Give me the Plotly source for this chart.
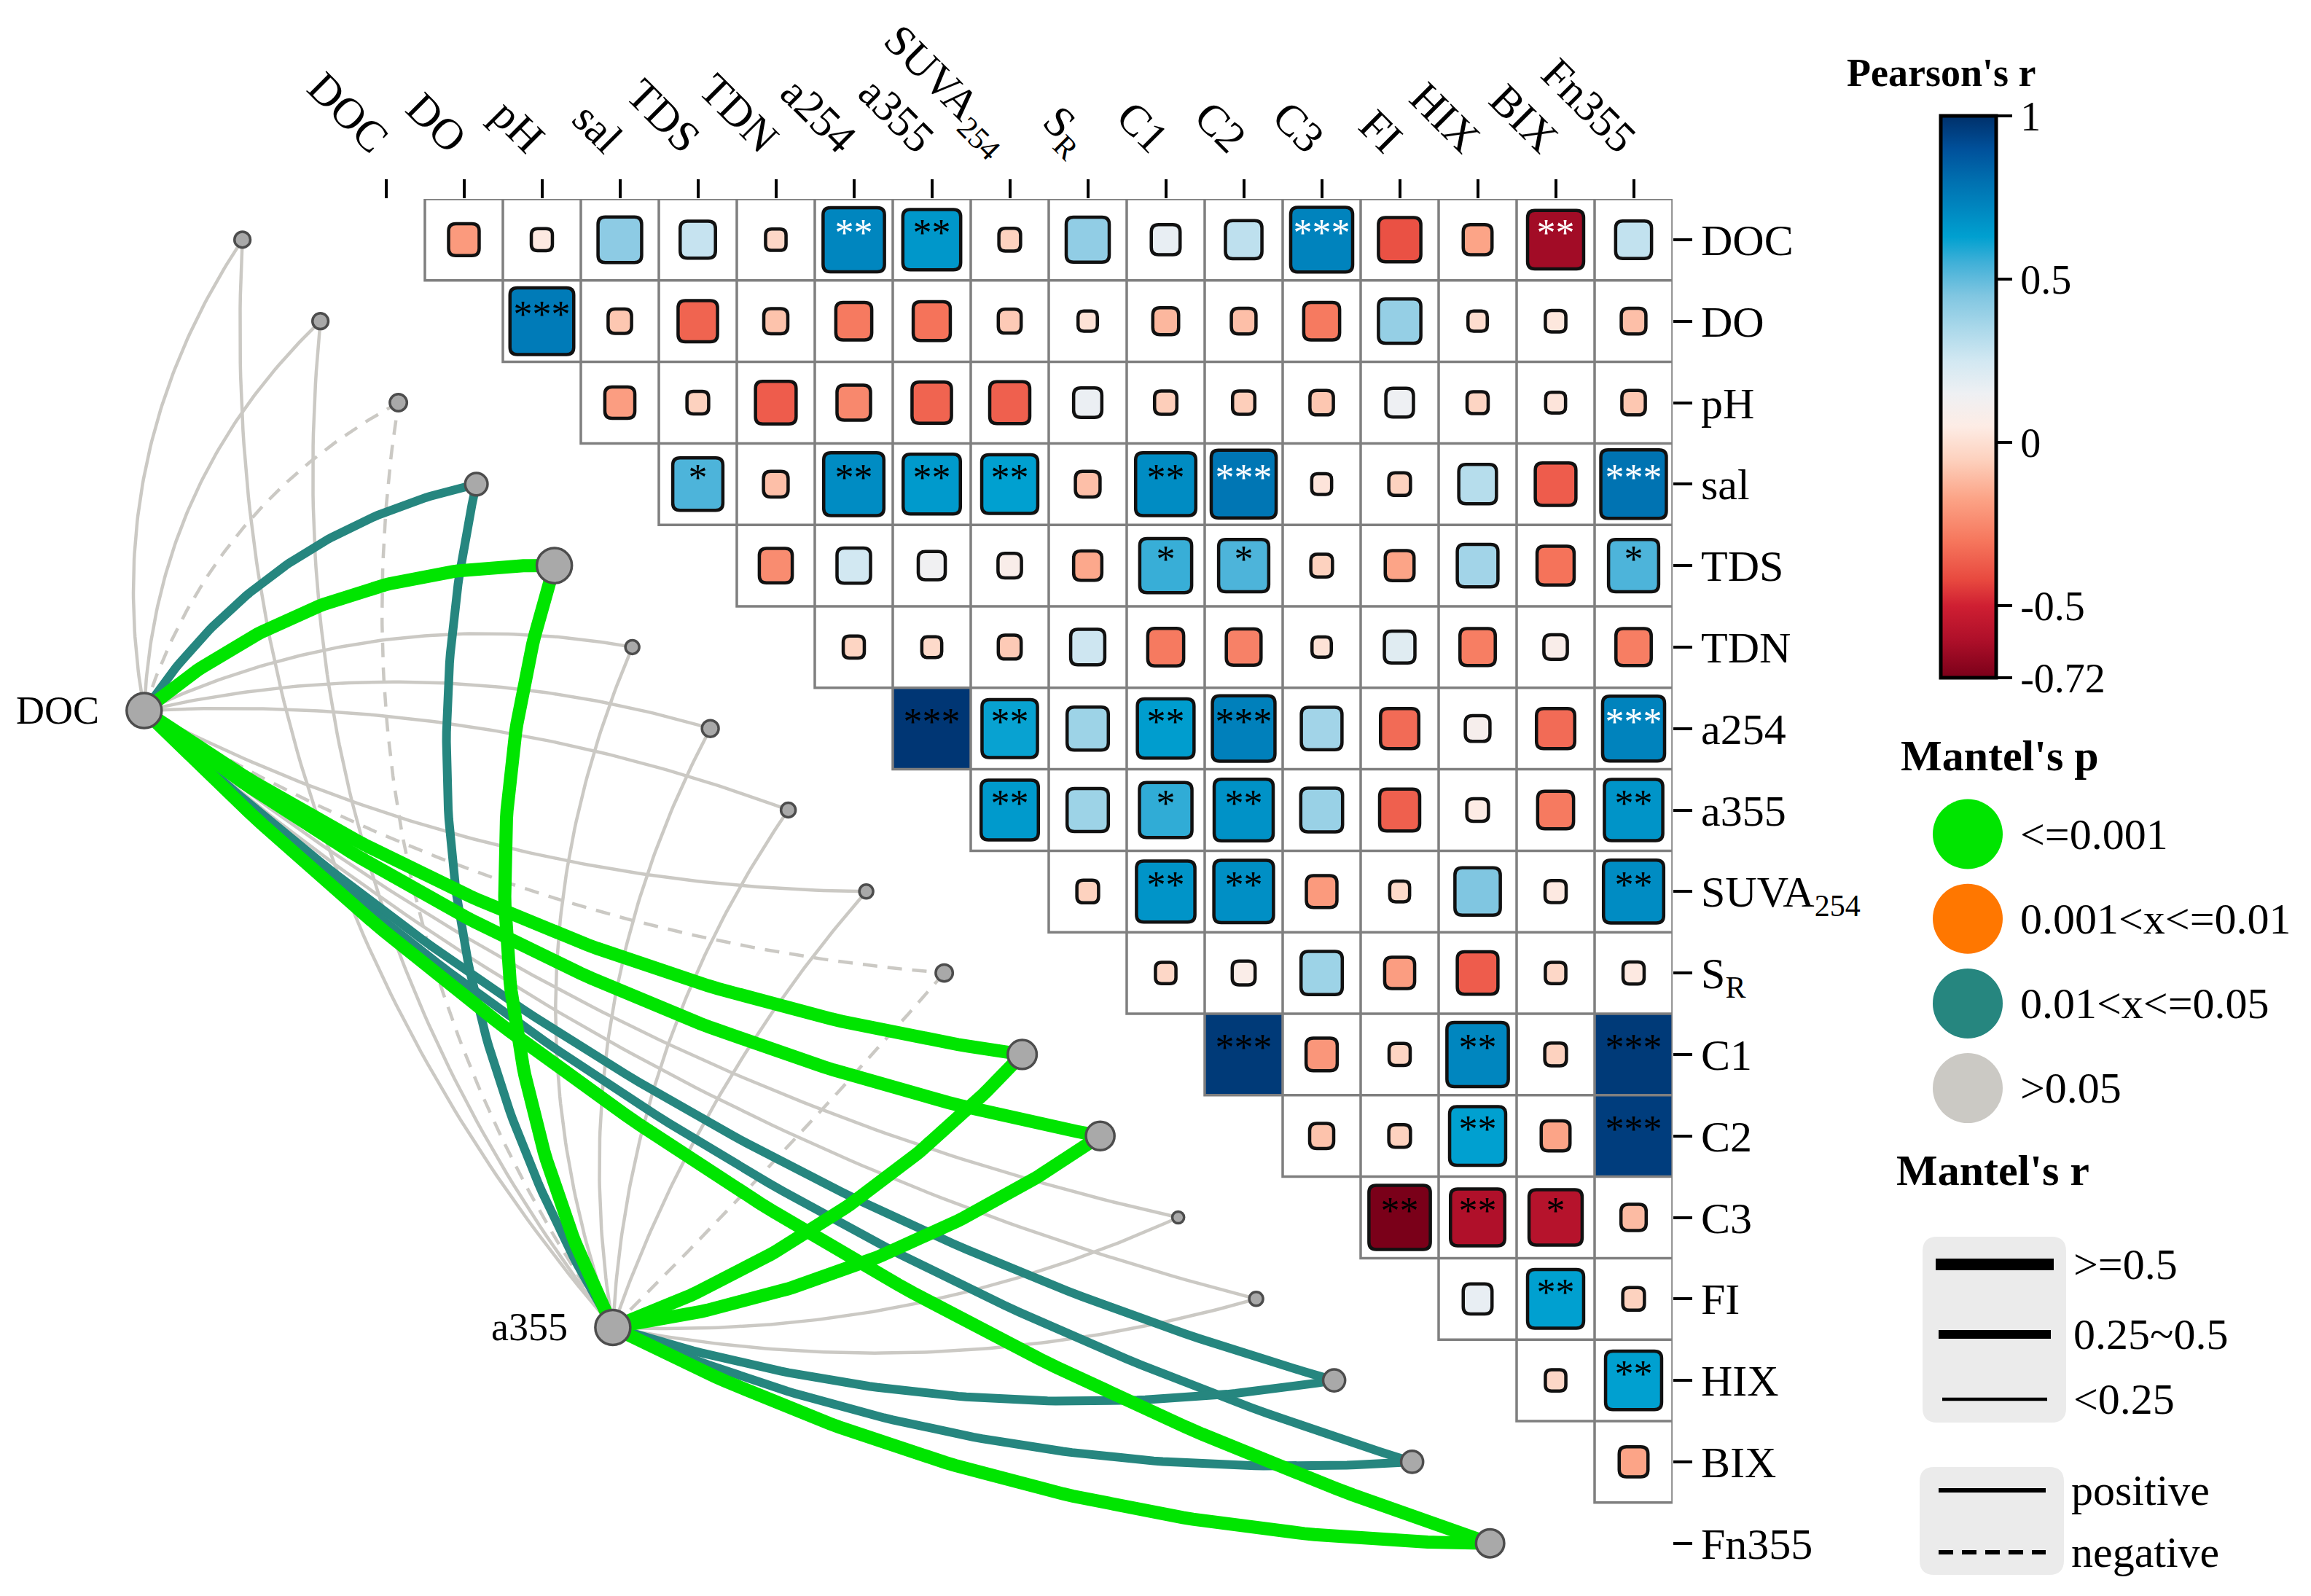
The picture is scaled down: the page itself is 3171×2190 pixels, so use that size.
import numpy as np
import plotly.graph_objects as go
from plotly.colors import sample_colorscale

PAGE_W, PAGE_H = 3171, 2190
OFF = 8                      # default body margin of the html page
W, H = PAGE_W - 2 * OFF, PAGE_H - 2 * OFF
SERIF = "Liberation Serif"

# ---------------- data ----------------
variables = ["DOC", "DO", "pH", "sal", "TDS", "TDN", "a254", "a355", "SUVA254",
             "SR", "C1", "C2", "C3", "FI", "HIX", "BIX", "Fn355"]
tick_text = ["DOC", "DO", "pH", "sal", "TDS", "TDN", "a254", "a355",
             "SUVA<sub>254</sub>", "S<sub>R</sub>", "C1", "C2", "C3", "FI",
             "HIX", "BIX", "Fn355"]

# Pearson's r: each row variable against the variables listed after it
r_DOC = [-0.20, 0.04, 0.42, 0.28, -0.03, 0.72, 0.66, -0.05, 0.41, 0.17, 0.30, 0.73, -0.40, -0.17, -0.63, 0.29]
r_DO = [0.76, -0.08, -0.35, -0.09, -0.29, -0.31, -0.07, 0.01, -0.12, -0.10, -0.29, 0.40, -0.01, 0.03, -0.10]
r_pH = [-0.19, -0.05, -0.37, -0.25, -0.35, -0.36, 0.16, -0.06, -0.06, -0.08, 0.15, -0.04, 0.02, -0.08]
r_sal = [0.53, -0.10, 0.70, 0.65, 0.63, -0.10, 0.70, 0.78, 0.02, -0.05, 0.32, -0.37, 0.79]
r_TDS = [-0.24, 0.25, 0.14, 0.08, -0.16, 0.56, 0.53, -0.05, -0.17, 0.37, -0.31, 0.53]
r_TDN = [-0.04, -0.02, -0.07, 0.26, -0.29, -0.27, 0.01, 0.20, -0.28, 0.08, -0.28]
r_a254 = [0.98, 0.62, 0.38, 0.64, 0.74, 0.37, -0.33, 0.10, -0.33, 0.73]
r_a355 = [0.65, 0.38, 0.57, 0.68, 0.39, -0.36, 0.05, -0.29, 0.67]
r_SUVA = [-0.05, 0.67, 0.69, -0.20, -0.02, 0.45, 0.04, 0.70]
r_SR = [-0.03, 0.07, 0.38, -0.19, -0.37, -0.03, 0.04]
r_C1 = [0.97, -0.21, -0.04, 0.72, -0.05, 0.97]
r_C2 = [-0.09, -0.05, 0.63, -0.17, 0.96]
r_C3 = [-0.72, -0.60, -0.58, -0.11]
r_FI = [0.17, 0.63, -0.05]
r_HIX = [-0.03, 0.63]
r_BIX = [-0.17]

# significance labels, same layout as the r rows
sig_DOC = ["", "", "", "", "", "**", "**", "", "", "", "", "***", "", "", "**", ""]
sig_DO = ["***", "", "", "", "", "", "", "", "", "", "", "", "", "", ""]
sig_pH = ["", "", "", "", "", "", "", "", "", "", "", "", "", ""]
sig_sal = ["*", "", "**", "**", "**", "", "**", "***", "", "", "", "", "***"]
sig_TDS = ["", "", "", "", "", "*", "*", "", "", "", "", "*"]
sig_TDN = ["", "", "", "", "", "", "", "", "", "", ""]
sig_a254 = ["***", "**", "", "**", "***", "", "", "", "", "***"]
sig_a355 = ["**", "", "*", "**", "", "", "", "", "**"]
sig_SUVA = ["", "**", "**", "", "", "", "", "**"]
sig_SR = ["", "", "", "", "", "", ""]
sig_C1 = ["***", "", "", "**", "", "***"]
sig_C2 = ["", "", "**", "", "***"]
sig_C3 = ["**", "**", "*", ""]
sig_FI = ["", "**", ""]
sig_HIX = ["", "**"]
sig_BIX = [""]

# Mantel test: two sources against every variable
mantel_sources = ["DOC", "a355"]
mantel_r_DOC = [0.21, 0.21, -0.24, 0.37, 0.68, 0.16, 0.23, 0.18, 0.16, -0.24, 0.53, 0.52, 0.11, 0.16, 0.36, 0.36, 0.51]
mantel_p_DOC = [0.42, 0.31, 0.18, 0.03, 0.001, 0.36, 0.22, 0.27, 0.45, 0.12, 0.001, 0.001, 0.58, 0.40, 0.02, 0.04, 0.001]
mantel_r_a355 = [0.19, 0.18, -0.21, 0.34, 0.64, 0.13, 0.20, 0.15, 0.12, -0.20, 0.50, 0.50, 0.09, 0.13, 0.33, 0.32, 0.50]
mantel_p_a355 = [0.47, 0.35, 0.21, 0.04, 0.001, 0.41, 0.26, 0.30, 0.50, 0.15, 0.001, 0.001, 0.62, 0.44, 0.03, 0.04, 0.001]

colorbar_ticks = [1, 0.5, 0, -0.5, -0.72]
p_legend_labels = ["&lt;=0.001", "0.001&lt;x&lt;=0.01", "0.01&lt;x&lt;=0.05", "&gt;0.05"]
r_legend_labels = ["&gt;=0.5", "0.25~0.5", "&lt;0.25"]
sign_legend_labels = ["positive", "negative"]

# ---------------- styles / layout constants ----------------
R_MIN, R_MAX = -0.72, 1.0
cs_r = [-0.72, -0.60, -0.50, -0.42, -0.30, -0.17, -0.05, 0.05, 0.15, 0.25,
        0.35, 0.45, 0.55, 0.63, 0.72, 0.80, 0.90, 1.00]
cs_hex = ["#7a0019", "#b0102a", "#cf1f32", "#e8493f", "#f6775d", "#fca487",
          "#fdd2bf", "#fdece5", "#eef0f3", "#d2e8f2", "#aad8ea", "#80c6e1",
          "#40b0d8", "#00a0d0", "#0086bf", "#0070b0", "#00509a", "#00306a"]


def hex2rgb(h):
    h = h.lstrip("#")
    return "rgb(%d,%d,%d)" % tuple(int(h[k:k + 2], 16) for k in (0, 2, 4))


colorscale = [[(v - R_MIN) / (R_MAX - R_MIN), hex2rgb(c)] for v, c in zip(cs_r, cs_hex)]


def r_color(v):
    return sample_colorscale(colorscale, [(v - R_MIN) / (R_MAX - R_MIN)])[0]


P_COLORS = ["#00E500", "#FF7700", "#26867F", "#CBC9C4"]
WHITE_STAR = {("DOC", "a254"), ("DOC", "C3"), ("DOC", "BIX"),
              ("sal", "C2"), ("sal", "Fn355"), ("a254", "Fn355")}

# plot area in page pixels
PX_L, PX_R, PX_T, PX_B = OFF, 2295, 273, PAGE_H - OFF
SX = 107.0
SY = 111.8
X_RANGE = [16.5 - (PX_R - PX_L) / SX, 16.5]
Y_RANGE = [-0.5 + (PX_B - PX_T) / SY, -0.5]

NODE_SHIFT = 1.84
SOURCE_POS = {"DOC": (-3.10, 5.78), "a355": (2.91, 13.35)}
FLIP = {"DOC": (7.5, 0.5), "a355": (8.85, 1.0)}


def xp(px):
    return (px - PX_L) / (PX_R - PX_L)


def yp(py):
    return (PX_B - py) / (PX_B - PX_T)


def rr_path(x0, x1, y0, y1, rx, ry):
    return (f"M{x0 + rx},{y0} L{x1 - rx},{y0} Q{x1},{y0} {x1},{y0 + ry} "
            f"L{x1},{y1 - ry} Q{x1},{y1} {x1 - rx},{y1} L{x0 + rx},{y1} "
            f"Q{x0},{y1} {x0},{y1 - ry} L{x0},{y0 + ry} Q{x0},{y0} {x0 + rx},{y0} Z")


pearson_rows = [r_DOC, r_DO, r_pH, r_sal, r_TDS, r_TDN, r_a254, r_a355, r_SUVA,
                r_SR, r_C1, r_C2, r_C3, r_FI, r_HIX, r_BIX]
sig_rows = [sig_DOC, sig_DO, sig_pH, sig_sal, sig_TDS, sig_TDN, sig_a254, sig_a355,
            sig_SUVA, sig_SR, sig_C1, sig_C2, sig_C3, sig_FI, sig_HIX, sig_BIX]

cells = []
for i, (rrow, srow) in enumerate(zip(pearson_rows, sig_rows)):
    for k, (rv, sv) in enumerate(zip(rrow, srow)):
        cells.append((i, i + 1 + k, rv, sv))

shapes = []
grid = []
for i, j, rv, sv in cells:
    col = r_color(rv)
    if abs(rv) >= 0.95:
        shapes.append(dict(type="rect", xref="x", yref="y", layer="below",
                           x0=j - 0.5, x1=j + 0.5, y0=i - 0.5, y1=i + 0.5,
                           fillcolor=col, line=dict(width=0)))
    else:
        f = 0.24 + 0.76 * abs(rv)
        rad = min(10.0, 0.3 * min(f * SX, f * SY))
        shapes.append(dict(type="path", xref="x", yref="y", layer="below",
                           path=rr_path(j - f / 2, j + f / 2, i - f / 2, i + f / 2,
                                        rad / SX, rad / SY),
                           fillcolor=col, line=dict(color="#111111", width=4.5)))
    grid.append(f"M{j - 0.5},{i - 0.5} L{j + 0.5},{i - 0.5} L{j + 0.5},{i + 0.5} "
                f"L{j - 0.5},{i + 0.5} Z")
shapes.append(dict(type="path", xref="x", yref="y", layer="below", path=" ".join(grid),
                   line=dict(color="#7f7f7f", width=3.5)))

fig = go.Figure()


# ---------------- Mantel edges ----------------
def p_class(p):
    if p <= 0.001:
        return 0
    if p <= 0.01:
        return 1
    if p <= 0.05:
        return 2
    return 3


def width_of(r):
    a = abs(r)
    return 18 if a >= 0.5 else (12 if a >= 0.25 else 4.5)


def curvature(src, k):
    t, w = FLIP[src]
    taper = min(abs(t - k) / w, 1.0)
    if k < t:
        return taper * (0.045 + 0.055 * min(t - k, 4) / 4)
    return -taper * 0.06


def bezier(p0, p1, f, n=90):
    a = np.array([p0[0] * SX, p0[1] * SY])
    b = np.array([p1[0] * SX, p1[1] * SY])
    d = b - a
    L = np.hypot(*d)
    nrm = np.array([d[1], -d[0]]) / L
    c = (a + b) / 2 + nrm * 2 * f * L
    t = np.linspace(0, 1, n)[:, None]
    pts = (1 - t) ** 2 * a + 2 * (1 - t) * t * c + t ** 2 * b
    return pts[:, 0] / SX, pts[:, 1] / SY


mantel = {"DOC": (mantel_r_DOC, mantel_p_DOC), "a355": (mantel_r_a355, mantel_p_a355)}
edges = []
for src in mantel_sources:
    rs, ps = mantel[src]
    for k, (rv, pv) in enumerate(zip(rs, ps)):
        edges.append((p_class(pv), src, k, rv))
edges.sort(key=lambda e: -e[0])
for pc, src, k, rv in edges:
    tx, ty = bezier(SOURCE_POS[src], (k - NODE_SHIFT, k), curvature(src, k))
    fig.add_trace(go.Scatter(
        x=tx, y=ty, mode="lines", hoverinfo="skip", showlegend=False,
        line=dict(color=P_COLORS[pc], width=width_of(rv),
                  dash="solid" if rv >= 0 else "20px,14px")))

# target nodes
max_r = [max(abs(a), abs(b)) for a, b in zip(mantel_r_DOC, mantel_r_a355)]
fig.add_trace(go.Scatter(
    x=[k - NODE_SHIFT for k in range(len(variables))], y=list(range(len(variables))),
    mode="markers", hoverinfo="skip", showlegend=False,
    marker=dict(size=[2 * (5 + 28 * m) for m in max_r], color="#A9A9A9", opacity=1,
                line=dict(color="#4d4d4d", width=3.5))))
# source nodes
fig.add_trace(go.Scatter(
    x=[SOURCE_POS[s][0] for s in mantel_sources], y=[SOURCE_POS[s][1] for s in mantel_sources],
    mode="markers", hoverinfo="skip", showlegend=False,
    marker=dict(size=48, color="#A9A9A9", opacity=1, line=dict(color="#4d4d4d", width=3.5))))

# significance stars
for white in (False, True):
    sel = [(i, j, s) for i, j, rv, s in cells if s and
           (((variables[i], variables[j]) in WHITE_STAR) == white)]
    fig.add_trace(go.Scatter(
        x=[c[1] for c in sel], y=[c[0] - 0.04 for c in sel], text=[c[2] for c in sel],
        mode="text", hoverinfo="skip", showlegend=False,
        textfont=dict(family=SERIF, size=52, color="white" if white else "black")))

# colorbar carrier
CB_TOP, CB_BOT = 159, 930
fig.add_trace(go.Scatter(
    x=[-100], y=[-100], mode="markers", hoverinfo="skip", showlegend=False,
    marker=dict(color=[0.0], colorscale=colorscale, cmin=R_MIN, cmax=R_MAX, size=1,
                showscale=True,
                colorbar=dict(xref="paper", yref="paper",
                              x=xp(2663.5), xanchor="left", xpad=0,
                              y=yp(CB_TOP), yanchor="top", ypad=0,
                              len=(CB_BOT - CB_TOP) / (PX_B - PX_T), lenmode="fraction",
                              thickness=76, thicknessmode="pixels",
                              outlinewidth=5, outlinecolor="black",
                              tickvals=colorbar_ticks,
                              ticktext=[("%g" % v) for v in colorbar_ticks],
                              ticks="outside", ticklen=20, tickwidth=4, tickcolor="black",
                              tickfont=dict(family=SERIF, size=56, color="black")))))

# ---------------- annotations ----------------
ann = []
for s in mantel_sources:
    ann.append(dict(x=SOURCE_POS[s][0], y=SOURCE_POS[s][1], xref="x", yref="y",
                    text=s, showarrow=False, xanchor="right", yanchor="middle",
                    xshift=-60, font=dict(family=SERIF, size=54, color="black")))

ann.append(dict(x=xp(2663), y=yp(100), xref="paper", yref="paper",
                text="<b>Pearson's r</b>", showarrow=False, xanchor="center",
                yanchor="middle", font=dict(family=SERIF, size=54, color="black")))

# Mantel's p legend
ann.append(dict(x=xp(2606), y=yp(1037), xref="paper", yref="paper",
                text="<b>Mantel's p</b>", showarrow=False, xanchor="left",
                yanchor="middle", font=dict(family=SERIF, size=60, color="black")))
for n, lab in enumerate(p_legend_labels):
    cy = 1144.5 + 116.2 * n
    shapes.append(dict(type="circle", xref="paper", yref="paper",
                       x0=xp(2700 - 48), x1=xp(2700 + 48), y0=yp(cy + 48), y1=yp(cy - 48),
                       fillcolor=P_COLORS[n], line=dict(width=0)))
    ann.append(dict(x=xp(2770), y=yp(cy), xref="paper", yref="paper", text=lab,
                    showarrow=False, xanchor="left", yanchor="middle",
                    font=dict(family=SERIF, size=60, color="black")))

# Mantel's r legend
ann.append(dict(x=xp(2600), y=yp(1606), xref="paper", yref="paper",
                text="<b>Mantel's r</b>", showarrow=False, xanchor="left",
                yanchor="middle", font=dict(family=SERIF, size=60, color="black")))
for (bx0, bx1, by0, by1) in [(2638, 2835, 1697, 1952), (2634, 2832, 2013, 2161)]:
    shapes.append(dict(type="path", xref="paper", yref="paper",
                       path=rr_path(xp(bx0), xp(bx1), yp(by1), yp(by0),
                                    20 / (PX_R - PX_L), 20 / (PX_B - PX_T)),
                       fillcolor="#EBEBEB", line=dict(width=0)))
for lab, (lx0, lx1, ly, lw) in zip(r_legend_labels,
                                   [(2656, 2818, 1735, 16), (2660, 2814, 1831, 12),
                                    (2665, 2809, 1920, 4.5)]):
    shapes.append(dict(type="line", xref="paper", yref="paper", x0=xp(lx0), x1=xp(lx1),
                       y0=yp(ly), y1=yp(ly), line=dict(color="black", width=lw)))
    ann.append(dict(x=xp(2843), y=yp(ly), xref="paper", yref="paper", text=lab,
                    showarrow=False, xanchor="left", yanchor="middle",
                    font=dict(family=SERIF, size=60, color="black")))
for lab, ly, dash in zip(sign_legend_labels, [2045, 2130], ["solid", "20px,12px"]):
    shapes.append(dict(type="line", xref="paper", yref="paper", x0=xp(2660), x1=xp(2807),
                       y0=yp(ly), y1=yp(ly), line=dict(color="black", width=6, dash=dash)))
    ann.append(dict(x=xp(2840), y=yp(ly), xref="paper", yref="paper", text=lab,
                    showarrow=False, xanchor="left", yanchor="middle",
                    font=dict(family=SERIF, size=60, color="black")))

fig.update_layout(
    width=W, height=H, template="none", showlegend=False,
    paper_bgcolor="white", plot_bgcolor="white",
    margin=dict(l=PX_L - OFF, r=(PAGE_W - OFF) - PX_R, t=PX_T - OFF,
                b=(PAGE_H - OFF) - PX_B, autoexpand=False),
    font=dict(family=SERIF, color="black"),
    shapes=shapes, annotations=ann,
    xaxis=dict(range=X_RANGE, side="top", tickmode="array",
               tickvals=list(range(len(variables))), ticktext=tick_text,
               tickangle=45, ticks="outside", ticklen=26, tickwidth=4, tickcolor="black",
               tickfont=dict(family=SERIF, size=60, color="black"),
               showgrid=False, zeroline=False, showline=False, automargin=False),
    yaxis=dict(range=Y_RANGE, side="right", tickmode="array",
               tickvals=list(range(len(variables))), ticktext=tick_text,
               ticks="outside", ticklen=26, tickwidth=4, tickcolor="black",
               tickfont=dict(family=SERIF, size=60, color="black"),
               showgrid=False, zeroline=False, showline=False, automargin=False),
)

fig.write_html("out.html")
